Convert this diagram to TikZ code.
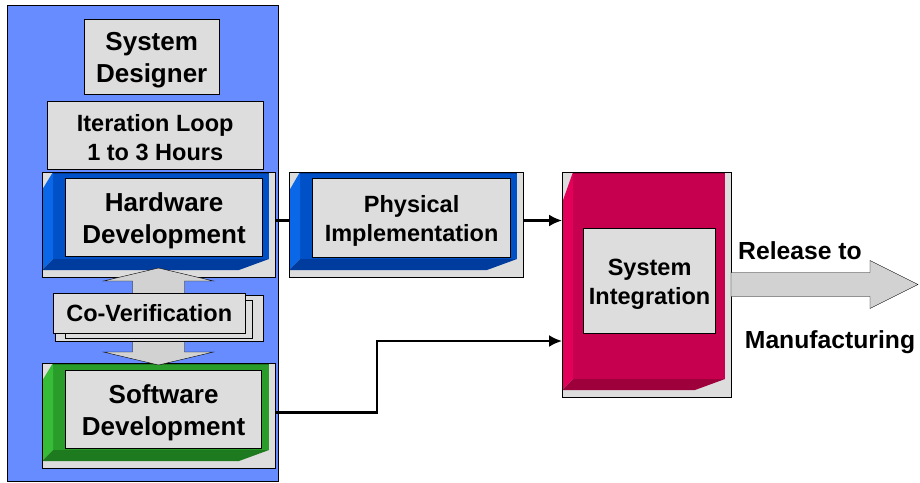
\documentclass[tikz,border=0pt]{standalone}
\usepackage{fontspec}
\setmainfont{Liberation Sans}
\usetikzlibrary{positioning,calc,arrows.meta}

\definecolor{panelblue}{HTML}{668CFF}
\definecolor{boxgray}{HTML}{DDDDDD}
\definecolor{arrowgray}{HTML}{D2D2D2}
\definecolor{bluemid}{HTML}{0050C8}
\definecolor{bluelit}{HTML}{0A68E8}
\definecolor{bluedrk}{HTML}{003C9E}
\definecolor{greenmid}{HTML}{2A9C2A}
\definecolor{greenlit}{HTML}{36BC36}
\definecolor{greendrk}{HTML}{1E7A1E}
\definecolor{magmid}{HTML}{C6004E}
\definecolor{maglit}{HTML}{E2005A}
\definecolor{magdrk}{HTML}{9E003C}

\newcommand{\bigtxt}{\bfseries\fontsize{26}{32.5}\selectfont}
\newcommand{\midtxt}{\bfseries\fontsize{23.5}{29.5}\selectfont}
\newcommand{\lift}{\rule{0pt}{0.95em}}

% bevelled frame: name, left, top, right, bottom, colour, notch
\newcommand{\bevelbox}[7]{%
  \node[frame,minimum width=#4pt-#2pt,minimum height=#5pt-#3pt] (#1) at (#2,#3) {};
  \fill[#6mid] (#2+11,#3) -- (#4-6,#3) -- (#4-6,#5-18) -- (#2+11,#5-18) -- cycle;
  \fill[#6lit] (#2,#3+#7) -- (#2+11,#3) -- (#2+11,#5-18) -- (#2,#5-7) -- cycle;
  \fill[#6drk] (#2,#5-7) -- (#2+11,#5-18) -- (#4-6,#5-18) -- (#4-36,#5-7) -- cycle;
  \draw[#6drk,line width=1.5pt] (#2+11,#3+1) -- (#4-6,#3+1);
  \draw (#1.north west) rectangle (#1.south east);
}

\begin{document}
\begin{tikzpicture}[x=1pt,y=-1pt,
  frame/.style={fill=boxgray,inner sep=0pt,outer sep=0pt,anchor=north west},
  inbox/.style={fill=boxgray,draw,line width=1.2pt,inner sep=0pt,anchor=north west,align=center},
  plainbox/.style={fill=boxgray,draw,inner sep=0pt,anchor=north west,align=center},
  wire/.style={line width=2.2pt},
  blockarrow/.style={fill=arrowgray,draw,line join=miter}]

\useasboundingbox (0,0) rectangle (920,482);

\fill[panelblue,draw=black] (7,5) rectangle (278,481);

\node[plainbox,font=\bigtxt,minimum width=135pt,minimum height=75pt] (sd) at (84,19) {\lift System\\Designer};
\node[plainbox,font=\midtxt,minimum width=216pt,minimum height=68pt] (loop) at (47,101) {\lift Iteration Loop\\1 to 3 Hours};

\bevelbox{hwf}{42}{172}{275}{277}{blue}{18}
\bevelbox{phf}{289}{172}{523}{277}{blue}{19}
\bevelbox{swf}{42}{363}{275}{468}{green}{18}
\bevelbox{sif}{562}{172}{731}{397}{mag}{31}

\node[inbox,font=\bigtxt,minimum width=197pt,minimum height=78pt] (hw) at (65,178) {\lift Hardware\\Development};
\node[inbox,font=\midtxt,minimum width=198pt,minimum height=79pt] (ph) at (312,178) {\lift Physical\\Implementation};
\node[inbox,font=\bigtxt,minimum width=196pt,minimum height=78pt] (sw) at (65,370) {\lift Software\\Development};
\node[inbox,font=\midtxt,minimum width=132pt,minimum height=105pt] (si) at (583,228) {\lift System\\Integration};

% double block arrow between hardware and software
\draw[blockarrow] ($(hwf.south)+(0,-9)$) -- ++(55,13) -- ++(-29,0) -- ++(0,71) -- ++(29,0)
  -- ++(-55,13) -- ++(-55,-13) -- ++(29,0) -- ++(0,-71) -- ++(-29,0) -- cycle;

% co-verification stack
\draw[fill=boxgray] (55,295) rectangle (263,341);
\draw[fill=boxgray] (65,300) rectangle (252,338);
\node[plainbox,font=\midtxt,minimum width=192pt,minimum height=40pt] (cv) at (53,293) {Co-Verification};

% connectors
\draw[wire] ([yshift=4pt]hwf.east) -- ([yshift=4pt]phf.west);
\draw[wire,-{Latex[length=13pt,width=12pt]}] ([yshift=4pt]phf.east) -- ([yshift=4pt]phf.east -| sif.west);
\coordinate (jog) at (377,341);
\draw[wire,-{Latex[length=13pt,width=12pt]}] ([yshift=3pt]swf.east) -| (jog) -- (jog -| sif.west);

% release arrow
\draw[blockarrow] ([yshift=12pt]sif.east) -- ++(139,0) -- ++(0,-12) -- ++(48,24)
  -- ++(-48,24) -- ++(0,-12) -- ++(-139,0) -- cycle;

\node[font=\bfseries\fontsize{24.7}{30}\selectfont] (rel) at (800,251) {Release to};
\node[font=\bfseries\fontsize{24.7}{30}\selectfont] (mfg) at (830,342) {Manufacturing};

\end{tikzpicture}
\end{document}
